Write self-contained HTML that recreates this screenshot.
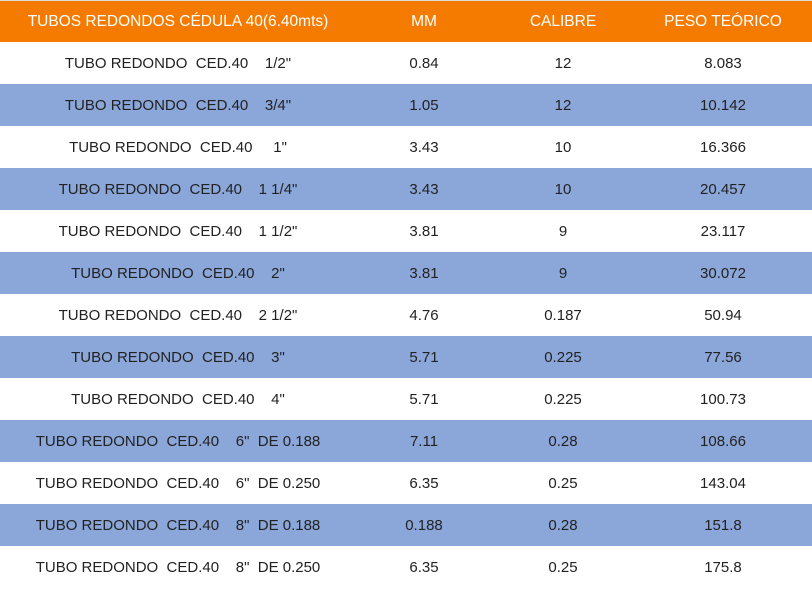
<!DOCTYPE html>
<html><head><meta charset="utf-8"><style>
body{margin:0;width:812px;height:589px;overflow:hidden;background:#fff;font-family:"Liberation Sans",sans-serif;}
table{border-collapse:collapse;width:812px;table-layout:fixed;border-top:1px solid #ddd}
tr{height:42px}
td,th{height:42px;padding:0;text-align:center;font-size:15px;color:#222;font-weight:normal;white-space:pre}
th{background:#F57A00;color:#fff;font-size:15.5px;height:41px}
tbody tr:nth-child(even) td{background:#8BA6D8}
</style></head><body>
<table>
<colgroup><col style="width:356px"><col style="width:136px"><col style="width:142px"><col style="width:178px"></colgroup>
<thead><tr style="height:41px"><th>TUBOS REDONDOS CÉDULA 40(6.40mts)</th><th>MM</th><th>CALIBRE</th><th>PESO TEÓRICO</th></tr></thead>
<tbody id="tb"></tbody></table>
<script>
const names=['TUBO REDONDO  CED.40    1/2"','TUBO REDONDO  CED.40    3/4"','TUBO REDONDO  CED.40     1"','TUBO REDONDO  CED.40    1 1/4"','TUBO REDONDO  CED.40    1 1/2"','TUBO REDONDO  CED.40    2"','TUBO REDONDO  CED.40    2 1/2"','TUBO REDONDO  CED.40    3"','TUBO REDONDO  CED.40    4"','TUBO REDONDO  CED.40    6"  DE 0.188','TUBO REDONDO  CED.40    6"  DE 0.250','TUBO REDONDO  CED.40    8"  DE 0.188','TUBO REDONDO  CED.40    8"  DE 0.250'];
const mm=['0.84','1.05','3.43','3.43','3.81','3.81','4.76','5.71','5.71','7.11','6.35','0.188','6.35'];
const calibre=['12','12','10','10','9','9','0.187','0.225','0.225','0.28','0.25','0.28','0.25'];
const peso=['8.083','10.142','16.366','20.457','23.117','30.072','50.94','77.56','100.73','108.66','143.04','151.8','175.8'];
const tb=document.getElementById('tb');
names.forEach((n,i)=>{
const tr=document.createElement('tr');


[n,mm[i],calibre[i],peso[i]].forEach((v,j)=>{
const td=document.createElement('td');td.textContent=v;


tr.appendChild(td);});
tb.appendChild(tr);});
</script>
</body></html>
